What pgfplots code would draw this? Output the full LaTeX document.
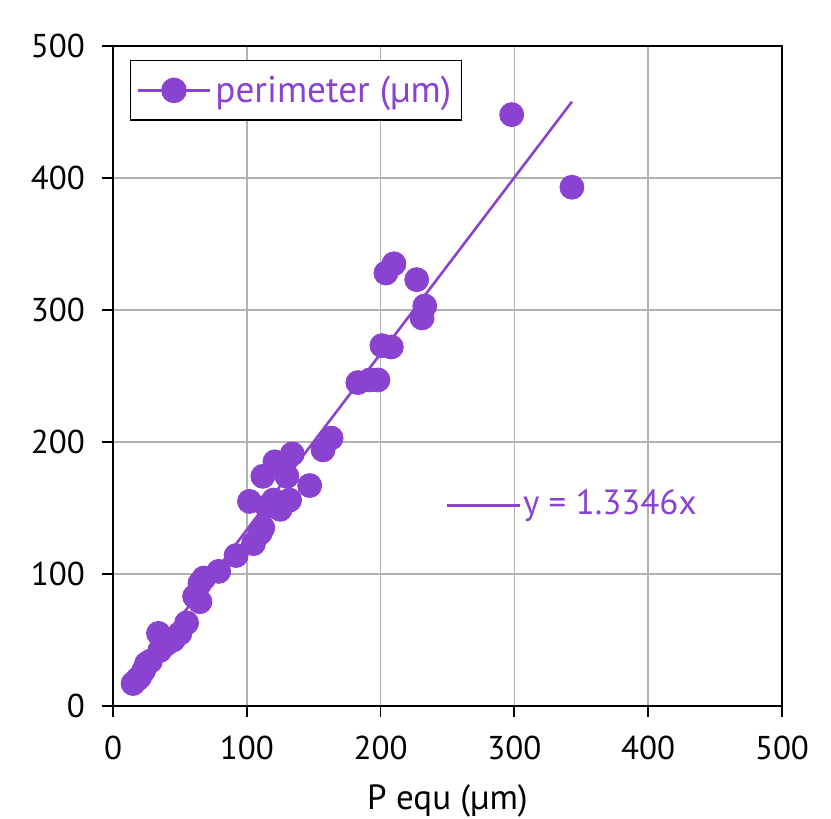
\documentclass[border=0pt]{standalone}
\usepackage{fontspec}
\setmainfont{PT Sans}
\usepackage{pgfplots}
\pgfplotsset{compat=1.18}
\definecolor{pur}{RGB}{138,66,208}
\definecolor{gridg}{RGB}{178,178,178}
\begin{document}
\begin{tikzpicture}
\useasboundingbox (-56.5pt,-56.5pt) rectangle (359pt,353pt);
\begin{axis}[
  at={(0,0)}, anchor=south west,
  scale only axis, width=334.5pt, height=330pt,
  xmin=0, xmax=500, ymin=0, ymax=500,
  xtick={0,100,...,500}, ytick={0,100,...,500},
  xtick pos=bottom, ytick pos=left,
  grid=major,
  grid style={gridg, line width=0.8pt},
  axis line style={black, line width=0.9pt},
  tick style={black, line width=0.9pt},
  tick align=outside,
  major tick length=5.5pt,
  tick label style={font=\fontsize{16.5}{18}\selectfont},
  xticklabel shift=6pt,
  yticklabel shift=5pt,
  /pgf/number format/assume math mode=true,
  xlabel={P equ (µm)},
  xlabel style={font=\fontsize{17.5}{19}\selectfont, at={(axis description cs:0.5,-0.144)}, anchor=center},
  legend style={at={(0.025,0.979)}, anchor=north west, draw=black, line width=0.8pt,
    font=\fontsize{18.6}{20}\selectfont, text=pur, inner xsep=3pt, inner ysep=5.5pt,
    legend cell align=left},
  legend image code/.code={
    \draw[pur, line width=1.3pt] (0cm,0cm) -- (1.27cm,0cm);
    \fill[pur] (0.635cm,0cm) circle (6pt);
  },
  clip=false,
]
\addplot[only marks, mark=*, mark size=6pt, color=pur, mark options={fill=pur, draw=pur}]
coordinates {
(15,17) (18,20) (20,22) (23,27) (25,32) (28,34) (35,42) (34,55) (40,47) (45,50)
(50,55) (55,63) (61,83) (65,79) (65,93) (68,97) (79,102) (92,114) (105,123) (110,131)
(112,135) (102,155) (115,151) (120,156) (125,149) (132,156) (112,174) (130,174) (121,185) (134,191)
(147,167) (157,194) (163,203) (183,245) (192,247) (198,247) (201,273) (208,272) (204,328) (210,335)
(227,323) (231,294) (233,303) (298,448) (343,393)
};
\addlegendentry{perimeter (µm)}
\addplot[pur, line width=1.3pt, forget plot] coordinates {(15,20.0) (343,457.8)};
\draw[pur, line width=1.3pt] (axis cs:250,152) -- (axis cs:304,152)
  node[right, inner sep=1pt, text=pur, font=\fontsize{17.5}{19}\selectfont] {y = 1.3346x};
\end{axis}
\end{tikzpicture}
\end{document}
